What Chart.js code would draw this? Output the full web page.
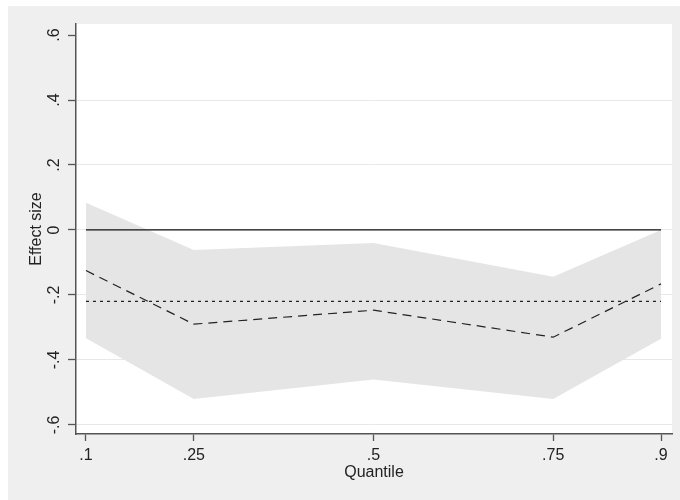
<!DOCTYPE html>
<html>
<head>
<meta charset="utf-8">
<script src="https://cdn.jsdelivr.net/npm/chart.js@4.4.1/dist/chart.umd.min.js"></script>
<style>
  html, body { margin: 0; padding: 0; background: #ffffff; }
  #wrap { width: 680px; height: 500px; }
</style>
</head>
<body>
<div id="wrap"><canvas id="c" width="680" height="500"></canvas></div>
<script>
// Quantile-regression effects with confidence band
const quantiles = [0.1, 0.25, 0.5, 0.75, 0.9];
const estimate  = [-0.125, -0.29, -0.247, -0.33, -0.166];
const ciUpper   = [0.084, -0.062, -0.040, -0.144, 0.0];
const ciLower   = [-0.333, -0.52, -0.46, -0.52, -0.335];
const olsEffect = -0.22;
const zeroLine  = 0;

const xTicks = [0.1, 0.25, 0.5, 0.75, 0.9];
const yTicks = [-0.6, -0.4, -0.2, 0, 0.2, 0.4, 0.6];
const yGridHidden = [0.6];

const FONT = "'Liberation Sans', Arial, sans-serif";

function fmt(v) {
  if (Math.abs(v) < 1e-9) return '0';
  let s = String(Math.round(v * 100) / 100);
  return s.replace(/^(-?)0\./, '$1.');
}

function pts(ys) { return quantiles.map((q, i) => ({ x: q, y: ys[i] })); }
function flat(v) { return [{ x: quantiles[0], y: v }, { x: quantiles[quantiles.length - 1], y: v }]; }

const backdrop = {
  id: 'backdrop',
  beforeDraw(chart) {
    const { ctx, chartArea: a } = chart;
    ctx.save();
    ctx.fillStyle = '#efefef';
    ctx.fillRect(8, 6, chart.width - 8, chart.height - 6);
    ctx.fillStyle = '#ffffff';
    ctx.fillRect(a.left, a.top, a.right - a.left, a.bottom - a.top);
    ctx.restore();
  },
  afterDraw(chart) {
    const { ctx, chartArea: a } = chart;
    const ys = chart.scales.y;
    const xs = chart.scales.x;
    ctx.save();
    ctx.fillStyle = '#222222';
    // rotated y tick labels
    ctx.font = '16px ' + FONT;
    ctx.textAlign = 'center';
    ctx.textBaseline = 'middle';
    yTicks.forEach(v => {
      const py = ys.getPixelForValue(v);
      ctx.save();
      ctx.translate(55, py);
      ctx.rotate(-Math.PI / 2);
      ctx.fillText(fmt(v), 0, 0);
      ctx.restore();
    });
    // axis titles
    ctx.font = '16px ' + FONT;
    ctx.save();
    ctx.translate(37, (a.top + a.bottom) / 2);
    ctx.rotate(-Math.PI / 2);
    ctx.fillText('Effect size', 0, 0);
    ctx.restore();
    ctx.fillText('Quantile', (xs.left + xs.right) / 2, 473);
    ctx.restore();
  }
};

new Chart(document.getElementById('c'), {
  type: 'line',
  data: {
    datasets: [
      { data: flat(zeroLine), borderColor: '#111111', borderWidth: 1.3, pointRadius: 0, fill: false },
      { data: flat(olsEffect), borderColor: '#222222', borderWidth: 1.2, borderDash: [3, 4], pointRadius: 0, fill: false },
      { data: pts(estimate), borderColor: '#222222', borderWidth: 1.2, borderDash: [9, 6], pointRadius: 0, fill: false },
      { data: pts(ciUpper), borderWidth: 0, borderColor: 'rgba(0,0,0,0)', backgroundColor: '#e5e5e5', pointRadius: 0, fill: '+1' },
      { data: pts(ciLower), borderWidth: 0, borderColor: 'rgba(0,0,0,0)', backgroundColor: '#e5e5e5', pointRadius: 0, fill: false }
    ]
  },
  options: {
    responsive: false,
    animation: false,
    devicePixelRatio: 1,
    layout: { padding: { left: 0, top: 24, right: 8, bottom: 0 } },
    plugins: { legend: { display: false }, tooltip: { enabled: false } },
    elements: { line: { tension: 0 } },
    scales: {
      x: {
        type: 'linear',
        min: 0.0861,
        max: 0.9153,
        afterBuildTicks: s => { s.ticks = xTicks.map(v => ({ value: v })); },
        afterFit: s => { s.height = 66; },
        ticks: {
          autoSkip: false, maxRotation: 0, minRotation: 0, padding: 5,
          color: '#222222', font: { family: FONT, size: 16 },
          callback: v => fmt(v)
        },
        grid: { drawOnChartArea: false, drawTicks: true, tickLength: 7, tickColor: '#555555', tickWidth: 1.3 },
        border: { color: '#555555', width: 1.5 }
      },
      y: {
        type: 'linear',
        min: -0.628,
        max: 0.634,
        afterBuildTicks: s => { s.ticks = yTicks.map(v => ({ value: v })); },
        afterFit: s => { s.width = 76; },
        ticks: { display: false },
        grid: {
          color: c => (c.tick && yGridHidden.some(h => Math.abs(h - c.tick.value) < 1e-6)) ? 'rgba(0,0,0,0)' : '#e8e8e8',
          lineWidth: 1,
          drawTicks: true, tickLength: 8, tickColor: '#555555', tickWidth: 1.3
        },
        border: { color: '#555555', width: 1.5 }
      }
    }
  },
  plugins: [backdrop]
});
</script>
</body>
</html>
